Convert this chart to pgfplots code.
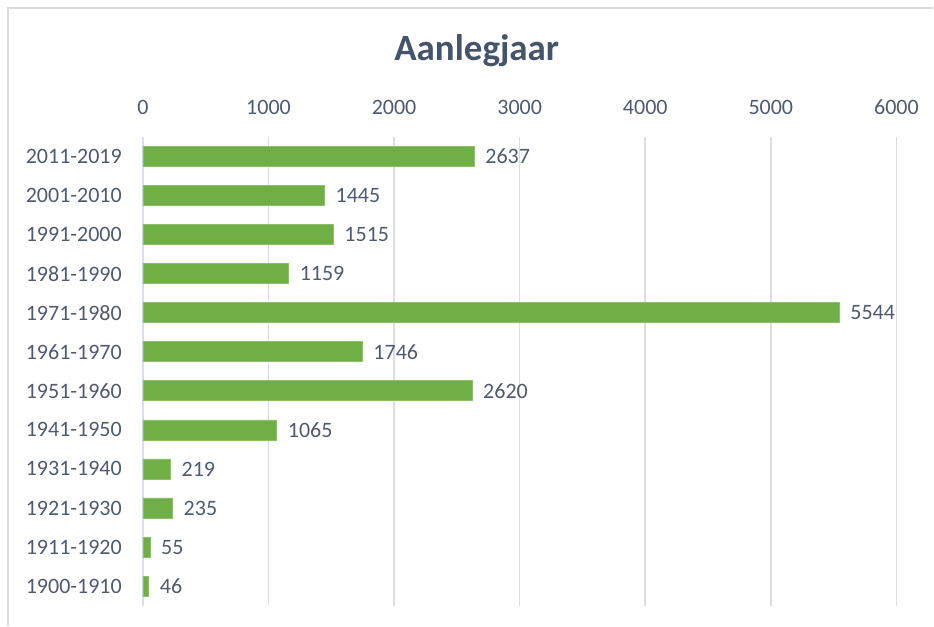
\documentclass[border=0pt]{standalone}
\usepackage{fontspec}
\setmainfont{Carlito}
\usepackage{pgfplots}
\pgfplotsset{compat=1.18}

\definecolor{titlecol}{RGB}{68,84,106}
\definecolor{labelcol}{RGB}{80,90,110}
\definecolor{gridcol}{RGB}{217,222,232}
\definecolor{framecol}{RGB}{217,220,226}
\definecolor{barfill}{RGB}{112,174,70}

\pgfplotstableread{
idx value
0 46
1 55
2 235
3 219
4 1065
5 2620
6 1746
7 5544
8 1159
9 1515
10 1445
11 2637
}\aanleg

\begin{document}
\begin{tikzpicture}
  \begin{axis}[
      name=main,
      scale only axis,
      width=754pt, height=469pt,
      xmin=0, xmax=6000,
      ymin=-0.5, ymax=11.5,
      xbar, bar width=20pt,
      xtick={0,1000,...,6000},
      scaled x ticks=false,
      xticklabel pos=top,
      ytick={0,...,11},
      yticklabels={1900-1910,1911-1920,1921-1930,1931-1940,1941-1950,1951-1960,
        1961-1970,1971-1980,1981-1990,1991-2000,2001-2010,2011-2019},
      major tick length=0pt,
      axis line style={draw=none},
      xmajorgrids, ymajorgrids=false,
      grid style={gridcol, line width=1.6pt},
      /pgf/number format/assume math mode=true,
      /pgf/number format/1000 sep={},
      tick label style={font=\fontsize{22}{26}\selectfont, text=labelcol},
      xticklabel style={anchor=base, inner sep=0pt, yshift=22pt},
      yticklabel style={anchor=east, inner sep=0pt, xshift=-21pt},
      title={Aanlegjaar},
      title style={font=\fontsize{37}{42}\selectfont\bfseries, text=titlecol,
        anchor=base, at={(0.5,1)}, yshift=70pt, xshift=-43pt},
      nodes near coords,
      nodes near coords align={horizontal},
      every node near coord/.append style={font=\fontsize{22}{26}\selectfont,
        text=labelcol, anchor=west, inner sep=0pt, xshift=11pt},
      clip=false,
    ]
    \addplot[draw=barfill!80!white, line width=0.6pt, fill=barfill]
      table[x=value, y=idx] {\aanleg};
  \end{axis}
  % picture area and the partly visible chart frame, relative to the axis box
  \path (main.south west) ++(-143pt,-20pt) coordinate (bl);
  \path (main.south west) ++(791pt,606pt) coordinate (tr);
  \path (bl) rectangle (tr);
  \draw[framecol, line width=1.2pt]
    ([xshift=8pt]bl) -- ([xshift=8pt,yshift=-8pt]bl |- tr) -- ([yshift=-8pt]tr);
\end{tikzpicture}
\end{document}
